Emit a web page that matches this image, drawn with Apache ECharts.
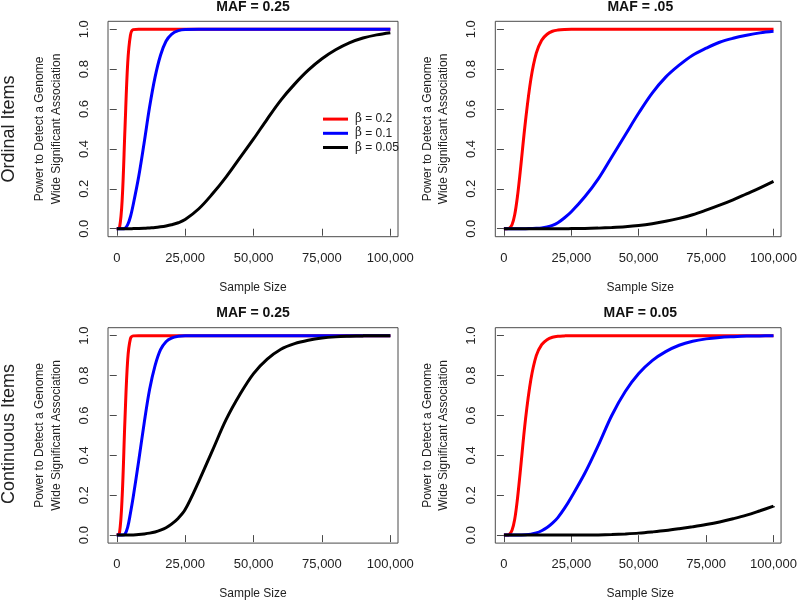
<!DOCTYPE html>
<html><head><meta charset="utf-8">
<script src="https://cdn.jsdelivr.net/npm/echarts@6/dist/echarts.min.js"></script>
<style>html,body{margin:0;padding:0;background:#fff}#c{width:800px;height:602px}</style>
</head><body><div id="c"></div>
<script>
// ---- data ----
const sampleSize = [0, 1000, 2000, 3000, 4000, 5000, 6000, 8000, 10000, 12000, 14000, 16000, 18000, 20000, 22500, 25000,
  30000, 35000, 40000, 45000, 50000, 55000, 60000, 65000, 70000, 75000, 80000, 85000, 90000, 95000, 100000];
const betaNames = ['β = 0.2', 'β = 0.1', 'β = 0.05'];
const panelTitles = ['MAF = 0.25', 'MAF = .05', 'MAF = 0.25', 'MAF = 0.05'];
const rowLabels = ['Ordinal Items', 'Continuous Items'];
const xTicks = [0, 25000, 50000, 75000, 100000];
const yTicks = [0, 0.2, 0.4, 0.6, 0.8, 1.0];

// Ordinal, MAF = 0.25
const ordMaf25B02 = [0, 0.005, 0.15, 0.5, 0.83, 0.97, 0.998, 1, 1, 1, 1, 1, 1, 1, 1, 1, 1, 1, 1, 1, 1, 1, 1, 1, 1, 1, 1, 1, 1, 1, 1];
const ordMaf25B01 = [0, 0, 0, 0.002, 0.02, 0.06, 0.12, 0.26, 0.43, 0.61, 0.76, 0.87, 0.94, 0.975, 0.993, 0.999, 1, 1, 1, 1, 1, 1, 1, 1, 1, 1, 1, 1, 1, 1, 1];
const ordMaf25B005 = [0, 0, 0, 0, 0, 0, 0.0005, 0.001, 0.002, 0.004, 0.006, 0.0095, 0.014, 0.02, 0.03, 0.046, 0.10, 0.175, 0.26, 0.355, 0.45, 0.55, 0.645, 0.725, 0.795, 0.852, 0.897, 0.932, 0.956, 0.972, 0.983];
// Ordinal, MAF = .05
const ordMaf05B02 = [0, 0, 0.003, 0.02, 0.07, 0.16, 0.28, 0.54, 0.75, 0.88, 0.945, 0.975, 0.99, 0.996, 0.999, 1, 1, 1, 1, 1, 1, 1, 1, 1, 1, 1, 1, 1, 1, 1, 1];
const ordMaf05B01 = [0, 0, 0, 0, 0, 0, 0, 0, 0.001, 0.002, 0.004, 0.009, 0.017, 0.03, 0.055, 0.085, 0.16, 0.25, 0.36, 0.47, 0.58, 0.68, 0.76, 0.82, 0.87, 0.905, 0.935, 0.955, 0.97, 0.982, 0.99];
const ordMaf05B005 = [0, 0, 0, 0, 0, 0, 0, 0, 0, 0, 0, 0, 0, 0, 0, 0.0005, 0.001, 0.003, 0.006, 0.01, 0.016, 0.025, 0.037, 0.052, 0.07, 0.093, 0.118, 0.145, 0.175, 0.205, 0.237];
// Continuous, MAF = 0.25
const conMaf25B02 = [0, 0.01, 0.2, 0.58, 0.88, 0.985, 0.999, 1, 1, 1, 1, 1, 1, 1, 1, 1, 1, 1, 1, 1, 1, 1, 1, 1, 1, 1, 1, 1, 1, 1, 1];
const conMaf25B01 = [0, 0, 0, 0.005, 0.04, 0.11, 0.19, 0.37, 0.56, 0.73, 0.85, 0.93, 0.97, 0.988, 0.997, 1, 1, 1, 1, 1, 1, 1, 1, 1, 1, 1, 1, 1, 1, 1, 1];
const conMaf25B005 = [0, 0, 0, 0, 0, 0.0005, 0.001, 0.003, 0.006, 0.01, 0.016, 0.025, 0.037, 0.055, 0.085, 0.128, 0.27, 0.425, 0.58, 0.705, 0.81, 0.882, 0.932, 0.96, 0.977, 0.988, 0.994, 0.997, 0.999, 1, 1];
// Continuous, MAF = 0.05
const conMaf05B02 = [0, 0, 0.004, 0.025, 0.08, 0.18, 0.31, 0.58, 0.78, 0.9, 0.955, 0.98, 0.992, 0.997, 0.999, 1, 1, 1, 1, 1, 1, 1, 1, 1, 1, 1, 1, 1, 1, 1, 1];
const conMaf05B01 = [0, 0, 0, 0, 0, 0, 0.0005, 0.002, 0.005, 0.011, 0.022, 0.038, 0.06, 0.088, 0.135, 0.19, 0.31, 0.45, 0.6, 0.72, 0.81, 0.875, 0.92, 0.952, 0.972, 0.984, 0.991, 0.995, 0.998, 0.999, 1];
const conMaf05B005 = [0, 0, 0, 0, 0, 0, 0, 0, 0, 0, 0, 0, 0, 0, 0, 0, 0, 0.001, 0.003, 0.006, 0.01, 0.016, 0.023, 0.032, 0.042, 0.053, 0.066, 0.082, 0.1, 0.122, 0.145];

const panelData = [
  [ordMaf25B02, ordMaf25B01, ordMaf25B005],
  [ordMaf05B02, ordMaf05B01, ordMaf05B005],
  [conMaf25B02, conMaf25B01, conMaf25B005],
  [conMaf05B02, conMaf05B01, conMaf05B005]
];

// ---- layout / style ----
const FONT = 'Liberation Sans, Arial, Helvetica, sans-serif';
const colors = ['#ff0000', '#0000ff', '#000000'];
const gridW = 290, gridH = 215.4;
const gridPos = [[108, 21.3], [495.3, 21.3], [108, 327.7], [495.3, 327.7]];
const axisGray = '#4a4a4a';

const grids = [], xAxes = [], yAxes = [], series = [], graphics = [];
gridPos.forEach((p, i) => {
  grids.push({ left: p[0], top: p[1], width: gridW, height: gridH, show: true,
    borderColor: axisGray, borderWidth: 1, backgroundColor: 'transparent', containLabel: false });
  xAxes.push({ type: 'value', gridIndex: i, min: -3200, max: 102800,
    splitLine: { show: false }, axisLine: { show: false },
    axisTick: { show: true, inside: false, length: 7, customValues: xTicks, lineStyle: { color: axisGray } },
    axisLabel: { show: true, customValues: xTicks, margin: 15, fontSize: 13, fontFamily: FONT, color: '#222',
      formatter: v => v.toLocaleString('en-US') } });
  yAxes.push({ type: 'value', gridIndex: i, min: -0.04, max: 1.04,
    splitLine: { show: false }, axisLine: { show: false },
    axisTick: { show: true, inside: false, length: 7, customValues: yTicks, lineStyle: { color: axisGray } },
    axisLabel: { show: true, customValues: yTicks, rotate: 90, margin: 17, fontSize: 13, fontFamily: FONT, color: '#222',
      formatter: v => v.toFixed(1) } });
  panelData[i].forEach((arr, k) => {
    series.push({ type: 'line', name: betaNames[k], xAxisIndex: i, yAxisIndex: i,
      data: sampleSize.map((x, j) => [x, arr[j]]),
      smooth: 0.35, showSymbol: false, symbol: 'none',
      lineStyle: { color: colors[k], width: 3 }, itemStyle: { color: colors[k] },
      emphasis: { disabled: true }, animation: false });
  });
  const cx = p[0] + gridW / 2;
  const cyPlot = p[1] + gridH / 2;
  graphics.push({ type: 'text', x: cx, y: p[1] - 14.5,
    style: { text: panelTitles[i], font: 'bold 14px ' + FONT, fill: '#111', align: 'center', verticalAlign: 'middle' } });
  graphics.push({ type: 'text', x: cx, y: p[1] + gridH + 51,
    style: { text: 'Sample Size', font: '12px ' + FONT, fill: '#222', align: 'center', verticalAlign: 'middle' } });
  graphics.push({ type: 'text', x: p[0] - 68, y: cyPlot, rotation: Math.PI / 2,
    style: { text: 'Power to Detect a Genome', font: '12px ' + FONT, fill: '#222', align: 'center', verticalAlign: 'middle' } });
  graphics.push({ type: 'text', x: p[0] - 51.5, y: cyPlot, rotation: Math.PI / 2,
    style: { text: 'Wide Significant Association', font: '12px ' + FONT, fill: '#222', align: 'center', verticalAlign: 'middle' } });
});
graphics.push({ type: 'text', x: 9, y: 129, rotation: Math.PI / 2,
  style: { text: rowLabels[0], font: '18px ' + FONT, fill: '#222', align: 'center', verticalAlign: 'middle' } });
graphics.push({ type: 'text', x: 9, y: 434, rotation: Math.PI / 2,
  style: { text: rowLabels[1], font: '18px ' + FONT, fill: '#222', align: 'center', verticalAlign: 'middle' } });

const chart = echarts.init(document.getElementById('c'), null, { renderer: 'canvas' });
chart.setOption({
  animation: false,
  backgroundColor: '#fff',
  grid: grids, xAxis: xAxes, yAxis: yAxes, series: series,
  legend: { show: true, orient: 'vertical', left: 318, top: 107, icon: 'rect', itemWidth: 25, itemHeight: 3,
    itemGap: 0, selectedMode: false, data: betaNames,
    textStyle: { fontSize: 12, fontFamily: FONT, color: '#222', lineHeight: 14.2, padding: [0, 0, 0, 2],
      rich: { g: { fontFamily: 'DejaVu Serif', fontSize: 12, color: '#222' } } },
    formatter: n => '{g|β} = ' + n.split('= ')[1] },
  graphic: graphics
});
</script></body></html>
